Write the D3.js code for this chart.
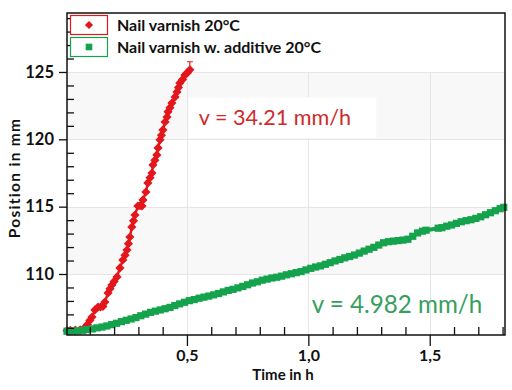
<!DOCTYPE html>
<html>
<head>
<meta charset="utf-8">
<script src="https://cdn.jsdelivr.net/npm/d3@7"></script>
<style>
  html, body { margin: 0; padding: 0; background: #fff; }
  svg { display: block; }
</style>
</head>
<body>
<svg id="chart" width="512" height="390"></svg>
<script>
// ---- data ----
const seriesNames = ["Nail varnish 20°C", "Nail varnish w. additive 20°C"];
const redTime = [0.006,0.02,0.04,0.06,0.075,0.09,0.10,0.109,0.121,0.134,0.144,0.154,0.162,0.175,0.183,0.191,0.200,0.212,0.224,0.236,0.245,0.253,0.259,0.265,0.273,0.280,0.286,0.298,0.307,0.315,0.319,0.331,0.339,0.348,0.356,0.360,0.368,0.376,0.381,0.389,0.395,0.401,0.41,0.418,0.422,0.430,0.438,0.451,0.459,0.465,0.471,0.482,0.492,0.502,0.512];
const redPos  = [105.80,105.82,105.83,105.85,105.95,106.25,106.55,106.80,107.33,107.55,107.55,107.60,107.92,108.59,108.90,109.18,109.45,109.78,110.45,111.04,111.40,111.78,112.25,112.75,113.49,113.95,114.38,115.05,115.08,115.05,115.50,116.09,116.76,117.15,117.50,118.10,118.45,118.84,119.36,119.96,120.30,120.70,121.29,121.66,122.04,122.35,122.70,123.15,123.52,123.85,124.19,124.45,124.78,124.95,125.16];
const redLastErr = 0.6;
const greenTime = [0.006,0.03,0.05,0.07,0.09,0.11,0.13,0.15,0.17,0.19,0.21,0.23,0.25,0.27,0.29,0.31,0.33,0.35,0.37,0.39,0.41,0.43,0.45,0.47,0.49,0.51,0.53,0.55,0.57,0.59,0.61,0.63,0.65,0.67,0.69,0.71,0.73,0.75,0.77,0.79,0.81,0.83,0.85,0.87,0.89,0.91,0.93,0.95,0.97,0.99,1.01,1.03,1.05,1.07,1.09,1.11,1.13,1.15,1.17,1.19,1.21,1.23,1.25,1.27,1.29,1.31,1.33,1.35,1.37,1.39,1.41,1.43,1.45,1.47,1.485,1.535,1.55,1.57,1.59,1.61,1.63,1.65,1.67,1.69,1.71,1.73,1.75,1.77,1.79,1.805];
const greenPos  = [105.75,105.76,105.78,105.82,105.87,105.92,106.00,106.06,106.14,106.24,106.34,106.46,106.56,106.66,106.76,106.90,107.02,107.15,107.24,107.33,107.42,107.52,107.66,107.78,107.90,108.02,108.10,108.20,108.28,108.36,108.45,108.55,108.67,108.78,108.86,108.97,109.08,109.20,109.33,109.42,109.54,109.62,109.70,109.76,109.84,109.94,110.02,110.10,110.18,110.30,110.42,110.52,110.60,110.72,110.84,110.97,111.08,111.20,111.30,111.41,111.55,111.70,111.84,111.98,112.15,112.32,112.40,112.44,112.48,112.52,112.58,112.80,113.05,113.18,113.25,113.40,113.44,113.55,113.64,113.76,113.88,113.96,114.03,114.13,114.25,114.40,114.55,114.70,114.85,114.95];
const xTicks = [0.5, 1.0, 1.5];
const xTickLabels = ["0,5", "1,0", "1,5"];
const yTicks = [110, 115, 120, 125];
const bandRanges = [[120, 125], [110, 115]];
const annotations = ["v = 34.21 mm/h", "v = 4.982 mm/h"];
const xTitle = "Time in h";
const yTitle = "Position in mm";

// ---- layout ----
const W = 512, H = 390;
const m = { left: 67, top: 13, right: 7, bottom: 55 };
const redColor = "#e3161c", greenColor = "#15a24c";
const redText = "#cf2a2a", greenText = "#35a05e";
const font = "Lato, 'Open Sans', sans-serif";

const svg = d3.select("#chart");
const x = d3.scaleLinear().domain([0.006, 1.81]).range([m.left, W - m.right]);
const y = d3.scaleLinear().domain([105.47, 129.38]).range([H - m.bottom, m.top]);

// bands
svg.append("g").selectAll("rect").data(bandRanges).join("rect")
  .attr("x", x.range()[0]).attr("width", x.range()[1] - x.range()[0])
  .attr("y", d => y(d[1])).attr("height", d => y(d[0]) - y(d[1]))
  .attr("fill", "#f8f8f8");

// grid
const grid = svg.append("g").attr("stroke", "#e6e6e6").attr("stroke-width", 1);
grid.selectAll(".gx").data(xTicks).join("line")
  .attr("x1", d => Math.round(x(d)) + 0.5).attr("x2", d => Math.round(x(d)) + 0.5)
  .attr("y1", y.range()[0]).attr("y2", y(125));
grid.selectAll(".gy").data(yTicks).join("line")
  .attr("y1", d => Math.round(y(d)) + 0.5).attr("y2", d => Math.round(y(d)) + 0.5)
  .attr("x1", x.range()[0]).attr("x2", x.range()[1]);

// annotation background
svg.append("rect").attr("x", x(0.506)).attr("y", y(123.1)).attr("width", x(1.28) - x(0.506))
  .attr("height", y(120.1) - y(123.1)).attr("fill", "#fff");

// series
const redData = redTime.map((t, i) => [t, redPos[i]]);
const greenData = greenTime.map((t, i) => [t, greenPos[i]]);
const line = d3.line().x(d => x(d[0])).y(d => y(d[1]));

svg.append("path").datum(redData).attr("d", line).attr("fill", "none")
  .attr("stroke", redColor).attr("stroke-width", 2.4);
const last = redData[redData.length - 1];
svg.append("path")
  .attr("d", `M${x(last[0])},${y(last[1])}V${y(last[1] + redLastErr)}M${x(last[0]) - 3},${y(last[1] + redLastErr)}H${x(last[0]) + 3}`)
  .attr("stroke", redColor).attr("stroke-width", 1.2).attr("fill", "none");
svg.append("g").selectAll("path").data(redData).join("path")
  .attr("d", d3.symbol(d3.symbolSquare, 42))
  .attr("transform", d => `translate(${x(d[0])},${y(d[1])}) rotate(45)`)
  .attr("fill", redColor);

svg.append("path").datum(greenData).attr("d", line).attr("fill", "none")
  .attr("stroke", greenColor).attr("stroke-width", 4);
svg.append("g").selectAll("path").data(greenData).join("path")
  .attr("d", d3.symbol(d3.symbolSquare, 52))
  .attr("transform", d => `translate(${x(d[0])},${y(d[1])})`)
  .attr("fill", greenColor);

// annotations
svg.append("text").attr("x", x(0.549)).attr("y", y(121.1))
  .attr("font-family", font).attr("font-size", 21.6)
  .attr("fill", redText).text(annotations[0]);
svg.append("text").attr("x", x(1.014)).attr("y", y(107.1))
  .attr("font-family", font).attr("font-size", 24.2)
  .attr("fill", greenText).text(annotations[1]);

// axes
const xAxis = svg.append("g").attr("transform", `translate(0,${H - m.bottom})`);
xAxis.call(d3.axisBottom(x).tickValues(xTicks).tickFormat((d, i) => xTickLabels[i]).tickSize(11).tickPadding(4).tickSizeOuter(0))
  .call(g => g.select(".domain").remove());
xAxis.selectAll("text").attr("font-family", font).attr("font-weight", 700).attr("font-size", 16).attr("fill", "#111");
xAxis.selectAll("line").attr("stroke", "#111").attr("stroke-width", 1.3);
const xMinor = d3.range(1, 19).map(i => i / 10).filter(v => !xTicks.some(t => Math.abs(t - v) < 1e-6));
xAxis.append("g").call(d3.axisBottom(x).tickValues(xMinor).tickSize(-8).tickFormat(""))
  .call(g => g.select(".domain").remove())
  .selectAll("line").attr("stroke", "#111").attr("stroke-width", 1.3);

const yAxis = svg.append("g").attr("transform", `translate(${m.left},0)`);
yAxis.call(d3.axisLeft(y).tickValues(yTicks).tickSize(8).tickPadding(5).tickSizeOuter(0))
  .call(g => g.select(".domain").remove());
yAxis.selectAll("text").attr("font-family", font).attr("font-weight", 700).attr("font-size", 16.5).attr("fill", "#111");
yAxis.selectAll("line").attr("stroke", "#111").attr("stroke-width", 1.3);
const yMinor = d3.range(106, 130).filter(v => !yTicks.includes(v));
yAxis.append("g").call(d3.axisLeft(y).tickValues(yMinor).tickSize(-7).tickFormat(""))
  .call(g => g.select(".domain").remove())
  .selectAll("line").attr("stroke", "#111").attr("stroke-width", 1.3);

// frame
svg.append("rect").attr("x", m.left).attr("y", m.top)
  .attr("width", W - m.left - m.right).attr("height", H - m.top - m.bottom)
  .attr("fill", "none").attr("stroke", "#111").attr("stroke-width", 1.5);

// axis titles
svg.append("text").attr("x", 283).attr("y", 380)
  .attr("text-anchor", "middle").attr("font-family", font).attr("font-weight", 700)
  .attr("font-size", 15).attr("fill", "#111").text(xTitle);
svg.append("text").attr("transform", `translate(20,178) rotate(-90)`)
  .attr("text-anchor", "middle").attr("font-family", font).attr("font-weight", 700)
  .attr("font-size", 15.5).attr("letter-spacing", 1.3).attr("fill", "#111").text(yTitle);

// legend
const legend = svg.append("g");
const legColors = [redColor, greenColor];
seriesNames.forEach((name, i) => {
  const g = legend.append("g").attr("transform", `translate(70,${15 + i * 22})`);
  g.append("rect").attr("x", 0.5).attr("y", 0.5).attr("width", 37).attr("height", 19)
    .attr("fill", "#fff").attr("stroke", legColors[i]).attr("stroke-width", 1.2);
  g.append("path").attr("d", d3.symbol(d3.symbolSquare, i === 0 ? 34 : 44))
    .attr("transform", `translate(19,10)` + (i === 0 ? " rotate(45)" : ""))
    .attr("fill", legColors[i]);
  g.append("text").attr("x", 47).attr("y", 15.5).attr("font-family", font).attr("font-weight", 700)
    .attr("font-size", 16).attr("fill", "#111").text(name);
});
</script>
</body>
</html>
